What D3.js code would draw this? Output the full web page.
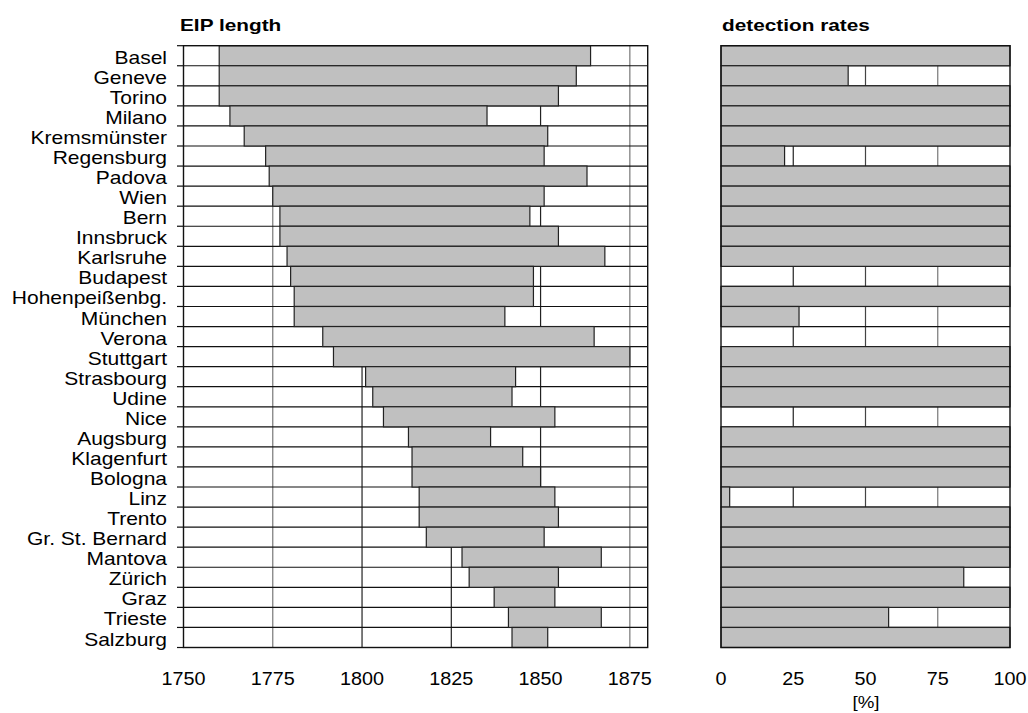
<!DOCTYPE html>
<html>
<head>
<meta charset="utf-8">
<script src="https://cdn.jsdelivr.net/npm/d3@7"></script>
<style>
  body { margin: 0; background: #fff; }
  text { font-family: "Liberation Sans", Arial, sans-serif; fill: #000; }
</style>
</head>
<body>
<svg id="chart" width="1028" height="713"></svg>
<script>
// stations, top to bottom
const stations = ["Basel", "Geneve", "Torino", "Milano", "Kremsmünster", "Regensburg", "Padova",
  "Wien", "Bern", "Innsbruck", "Karlsruhe", "Budapest", "Hohenpeißenbg.", "München", "Verona",
  "Stuttgart", "Strasbourg", "Udine", "Nice", "Augsburg", "Klagenfurt", "Bologna", "Linz",
  "Trento", "Gr. St. Bernard", "Mantova", "Zürich", "Graz", "Trieste", "Salzburg"];
const startYear = [1760, 1760, 1760, 1763, 1767, 1773, 1774, 1775, 1777, 1777, 1779, 1780, 1781,
  1781, 1789, 1792, 1801, 1803, 1806, 1813, 1814, 1814, 1816, 1816, 1818, 1828, 1830, 1837, 1841, 1842];
const endYear = [1864, 1860, 1855, 1835, 1852, 1851, 1863, 1851, 1847, 1855, 1868, 1848, 1848,
  1840, 1865, 1875, 1843, 1842, 1854, 1836, 1845, 1850, 1854, 1855, 1851, 1867, 1855, 1854, 1867, 1852];
const detection = [100, 44, 100, 100, 100, 22, 100, 100, 100, 100, 100, 0, 100, 27, 0,
  100, 100, 100, 0, 100, 100, 100, 3, 100, 100, 100, 84, 100, 58, 100];
const yearTicks = [1750, 1775, 1800, 1825, 1850, 1875];
const pctTicks = [0, 25, 50, 75, 100];

const rows = stations.map((s, i) => ({name: s, start: startYear[i], end: endYear[i], rate: detection[i]}));

const svg = d3.select("#chart");
const TOP = 45.7, BOTTOM = 647.5;

const y = d3.scaleBand().domain(stations).range([TOP, BOTTOM]).paddingInner(0).paddingOuter(0);
const xYear = d3.scaleLinear().domain([1750, 1880]).range([183.5, 647.7]);
const xPct = d3.scaleLinear().domain([0, 100]).range([721, 1010]);

function stretched(sel, x, yy, k){
  return sel.attr("transform", "translate(" + x + "," + yy + ") scale(" + k + ",1)");
}

function panel(g, x, ticks, x0, x1, bars, gridColors){
  g.append("rect").attr("x", x(x0)).attr("y", TOP)
    .attr("width", x(x1) - x(x0)).attr("height", BOTTOM - TOP).attr("fill", "#fff");
  g.selectAll("line.grid").data(ticks.filter(t => t > x0 && t < x1)).enter().append("line")
    .attr("class", "grid")
    .attr("x1", d => x(d)).attr("x2", d => x(d))
    .attr("y1", TOP).attr("y2", BOTTOM)
    .attr("stroke", (d, i) => gridColors[i]).attr("stroke-width", 1.2);
  g.selectAll("line.row").data(stations.slice(1)).enter().append("line")
    .attr("class", "row")
    .attr("x1", x(x0)).attr("x2", x(x1))
    .attr("y1", d => y(d)).attr("y2", d => y(d))
    .attr("stroke", "#111").attr("stroke-width", 1.2);
  g.selectAll("rect.bar").data(rows.filter(bars.keep)).enter().append("rect")
    .attr("class", "bar")
    .attr("x", d => x(bars.a(d))).attr("width", d => x(bars.b(d)) - x(bars.a(d)))
    .attr("y", d => y(d.name)).attr("height", y.bandwidth())
    .attr("fill", "#c0c0c0").attr("stroke", "#222").attr("stroke-width", 1.2);
  g.append("rect").attr("x", x(x0)).attr("y", TOP)
    .attr("width", x(x1) - x(x0)).attr("height", BOTTOM - TOP)
    .attr("fill", "none").attr("stroke", "#111").attr("stroke-width", 1.4);
  g.selectAll("text.tick").data(ticks).enter().append("text")
    .attr("class", "tick")
    .each(function(d){ stretched(d3.select(this), x(d), 685, 1.1); })
    .attr("text-anchor", "middle").attr("font-size", 18)
    .text(d => d);
}

const left = svg.append("g");
panel(left, xYear, yearTicks, 1750, 1880,
  {keep: d => true, a: d => d.start, b: d => d.end}, ["#777", "#222", "#222", "#222", "#777"]);

const right = svg.append("g");
panel(right, xPct, pctTicks, 0, 100,
  {keep: d => d.rate > 0, a: d => 0, b: d => d.rate}, ["#222", "#444", "#777"]);

// y axis ticks + labels on left panel
const yTicks = stations.map(s => y(s)).concat([BOTTOM]);
left.selectAll("line.ytick").data(yTicks).enter().append("line")
  .attr("x1", 177).attr("x2", 183.5).attr("y1", d => d).attr("y2", d => d)
  .attr("stroke", "#111").attr("stroke-width", 1.2);
left.selectAll("text.lab").data(stations).enter().append("text")
  .attr("class", "lab")
  .each(function(d){ stretched(d3.select(this), 167, y(d) + y.bandwidth() - 2, 1.2); })
  .attr("text-anchor", "end").attr("font-size", 17.5)
  .text(d => d);

// titles
stretched(svg.append("text"), 180, 31, 1.3)
  .attr("font-size", 16).attr("font-weight", "bold").text("EIP length");
stretched(svg.append("text"), 722, 31, 1.3)
  .attr("font-size", 16).attr("font-weight", "bold").text("detection rates");
stretched(svg.append("text"), 866, 708, 1.1)
  .attr("text-anchor", "middle").attr("font-size", 17).text("[%]");
</script>
</body>
</html>
